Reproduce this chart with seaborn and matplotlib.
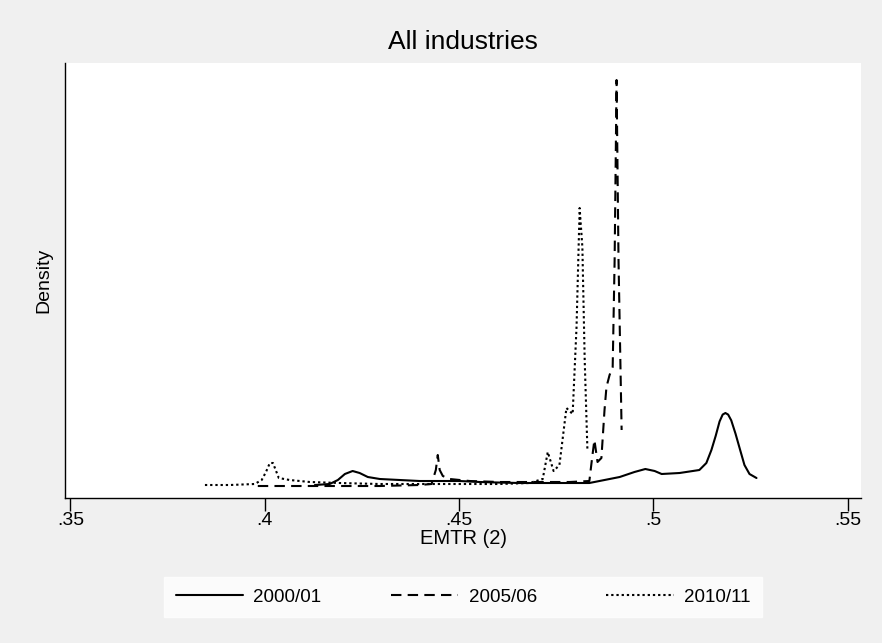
import numpy as np
import pandas as pd
import seaborn as sns
import matplotlib.pyplot as plt

# kernel density curves (EMTR, density)
emtr_2000 = [0.4129, 0.4167, 0.4188, 0.4206, 0.4226, 0.4244, 0.4265, 0.4296, 0.4347,
             0.4398, 0.4501, 0.4553, 0.4604, 0.4656, 0.4707, 0.4758, 0.4835, 0.4874,
             0.4913, 0.4951, 0.4979, 0.5003, 0.5021, 0.5067, 0.5118, 0.5136, 0.5149,
             0.5160, 0.5170, 0.5178, 0.5185, 0.5192, 0.5200, 0.5211, 0.5224, 0.5234,
             0.5247, 0.5265]
dens_2000 = [0.9, 1.35, 3.15, 5.85, 7.2, 6.3, 4.5, 3.6, 3.15,
             2.7, 2.7, 2.25, 2.0, 1.8, 1.8, 1.8, 1.8, 3.15,
             4.5, 6.75, 8.1, 7.2, 5.85, 6.3, 7.65, 10.8, 16.65,
             23.0, 29.5, 32.6, 33.3, 32.6, 30.0, 24.0, 16.0, 9.9,
             5.85, 4.05]

emtr_2005 = [0.3982, 0.4090, 0.4193, 0.4296, 0.4398, 0.4429, 0.4440, 0.4445, 0.4450,
             0.4458, 0.4476, 0.4527, 0.4604, 0.4707, 0.4784, 0.4835, 0.4843, 0.4848,
             0.4856, 0.4866, 0.4874, 0.4879, 0.4887, 0.4895, 0.4900, 0.4905, 0.4910,
             0.4918]
dens_2005 = [0.45, 0.45, 0.45, 0.45, 0.9, 1.35, 7.65, 14.4, 7.65,
             4.95, 3.6, 2.7, 2.25, 2.25, 2.25, 2.7, 14.4, 21.15,
             11.25, 13.05, 34.65, 45.0, 50.4, 54.0, 102.15, 183.15, 102.15,
             25.65]

emtr_2010 = [0.3846, 0.3910, 0.3974, 0.3992, 0.4003, 0.4013, 0.4021, 0.4028, 0.4036,
             0.4064, 0.4116, 0.4193, 0.4296, 0.4398, 0.4501, 0.4604, 0.4681, 0.4715,
             0.4728, 0.4743, 0.4758, 0.4776, 0.4792, 0.4802, 0.4810, 0.4817, 0.4823,
             0.4830]
dens_2010 = [0.9, 0.9, 1.35, 3.15, 6.75, 10.8, 10.8, 7.65, 4.05,
             3.15, 2.25, 1.8, 1.35, 1.35, 1.35, 1.35, 1.8, 3.6,
             15.75, 7.2, 9.9, 35.55, 32.85, 72.0, 125.55, 108.0, 57.15,
             16.65]

years = ['2000/01', '2005/06', '2010/11']
xticks = [0.35, 0.4, 0.45, 0.5, 0.55]
xtick_labels = ['.35', '.4', '.45', '.5', '.55']

df = pd.concat([
    pd.DataFrame({'EMTR': emtr_2000, 'Density': dens_2000, 'year': years[0]}),
    pd.DataFrame({'EMTR': emtr_2005, 'Density': dens_2005, 'year': years[1]}),
    pd.DataFrame({'EMTR': emtr_2010, 'Density': dens_2010, 'year': years[2]}),
])

sns.set_style('white')
plt.rcParams['font.family'] = ['Liberation Sans', 'DejaVu Sans']
plt.rcParams['text.color'] = 'black'
plt.rcParams['axes.labelcolor'] = 'black'
plt.rcParams['xtick.color'] = 'black'

fig = plt.figure(figsize=(8.82, 6.43), dpi=100, facecolor='#f0f0f0')
ax = fig.add_axes([0.0737, 0.2255, 0.903, 0.6765])
ax.set_facecolor('white')

sns.lineplot(data=df, x='EMTR', y='Density', style='year', color='black',
             dashes={years[0]: '', years[1]: (5, 3), years[2]: (1.1, 1.4)},
             estimator=None, sort=False, linewidth=1.5, ax=ax)

ax.set_xlim(0.3486, 0.5535)
ax.set_ylim(-4.95, 190.8)
ax.set_xticks(xticks)
ax.set_xticklabels(xtick_labels, fontsize=14)
ax.set_yticks([])
ax.tick_params(axis='x', direction='out', length=9, width=1, color='black', pad=1,
               bottom=True)
for side in ['top', 'right']:
    ax.spines[side].set_visible(False)
for side in ['left', 'bottom']:
    ax.spines[side].set_color('black')
    ax.spines[side].set_linewidth(1)

ax.set_xlabel('EMTR (2)', fontsize=14.5, labelpad=0)
ax.set_ylabel('Density', fontsize=14, labelpad=9)
ax.set_title('All industries', fontsize=19, pad=10)

handles, labels = ax.get_legend_handles_labels()
leg = ax.legend(handles, labels, ncol=3, loc='center', bbox_to_anchor=(0.525, 0.0715),
                bbox_transform=fig.transFigure, frameon=True, fancybox=False,
                fontsize=13.5, handlelength=3.6, columnspacing=3.7, handletextpad=0.55,
                borderpad=0.6, borderaxespad=0)
leg.get_frame().set_facecolor('white')
leg.get_frame().set_edgecolor('white')

fig.savefig('out.png', dpi=100, facecolor=fig.get_facecolor())
